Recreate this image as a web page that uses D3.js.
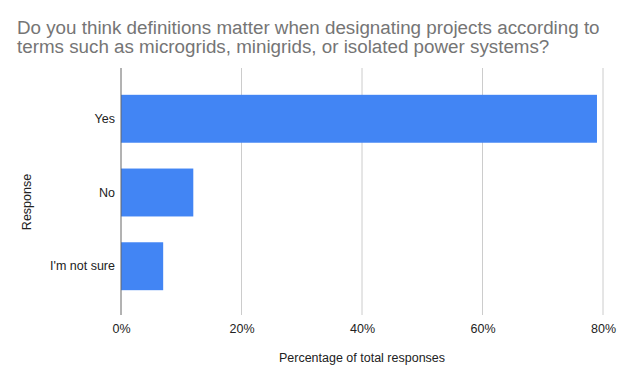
<!DOCTYPE html>
<html>
<head>
<meta charset="utf-8">
<script src="https://cdn.jsdelivr.net/npm/d3@7"></script>
<style>
  body { margin: 0; background: #fff; }
  text { font-family: "Liberation Sans", Arial, sans-serif; }
</style>
</head>
<body>
<div id="chart"></div>
<script>
// Chart data
const categories = ["Yes", "No", "I'm not sure"];
const percentages = [0.79, 0.12, 0.07];
const tickValues = [0, 0.2, 0.4, 0.6, 0.8];
const titleLines = [
    "Do you think definitions matter when designating projects according to",
    "terms such as microgrids, minigrids, or isolated power systems?"
];

const width = 624, height = 385;
const plot = { left: 121, right: 603, top: 68, bottom: 315 };

const svg = d3.select("#chart")
    .append("svg")
    .attr("width", width)
    .attr("height", height);

// Scales
const xScale = d3.scaleLinear()
    .domain([0, 0.8])
    .range([plot.left, plot.right]);

const yScale = d3.scaleBand()
    .domain(categories)
    .range([plot.top + 1, plot.bottom + 1])
    .paddingInner(0.35)
    .paddingOuter(0.35);

// Title
svg.append("text")
    .attr("x", 17)
    .attr("y", 34)
    .attr("fill", "#757575")
    .attr("font-size", 18.8)
    .selectAll("tspan")
    .data(titleLines)
    .enter().append("tspan")
    .attr("x", 17)
    .attr("dy", (d, i) => i === 0 ? 0 : 19)
    .text(d => d);

// Vertical gridlines
svg.append("g")
    .selectAll("line")
    .data(tickValues.slice(1))
    .enter().append("line")
    .attr("x1", d => xScale(d))
    .attr("x2", d => xScale(d))
    .attr("y1", plot.top)
    .attr("y2", plot.bottom)
    .attr("stroke", "#cccccc")
    .attr("stroke-width", 1);

// Bars
svg.append("g")
    .selectAll("rect")
    .data(categories)
    .enter().append("rect")
    .attr("x", xScale(0))
    .attr("y", d => yScale(d))
    .attr("width", (d, i) => xScale(percentages[i]) - xScale(0))
    .attr("height", yScale.bandwidth())
    .attr("fill", "#4285f4");

// Baseline
svg.append("line")
    .attr("x1", xScale(0))
    .attr("x2", xScale(0))
    .attr("y1", plot.top)
    .attr("y2", plot.bottom)
    .attr("stroke", "#666666")
    .attr("stroke-width", 1);

// X axis tick labels
const xAxis = svg.append("g")
    .attr("transform", `translate(0,${plot.bottom})`)
    .call(d3.axisBottom(xScale)
        .tickValues(tickValues)
        .tickFormat(d3.format(".0%"))
        .tickSize(0)
        .tickPadding(9));
xAxis.select(".domain").remove();
xAxis.selectAll("text")
    .attr("font-family", "Liberation Sans, Arial, sans-serif")
    .attr("font-size", 12.5)
    .attr("fill", "#222222");

// Y axis category labels
const yAxis = svg.append("g")
    .attr("transform", `translate(${plot.left},0)`)
    .call(d3.axisLeft(yScale).tickSize(0).tickPadding(6));
yAxis.select(".domain").remove();
yAxis.selectAll("text")
    .attr("font-family", "Liberation Sans, Arial, sans-serif")
    .attr("font-size", 12.5)
    .attr("fill", "#222222");

// X axis title
svg.append("text")
    .attr("x", (plot.left + plot.right) / 2)
    .attr("y", 362)
    .attr("text-anchor", "middle")
    .attr("font-size", 12.5)
    .attr("fill", "#222222")
    .text("Percentage of total responses");

// Y axis title
svg.append("text")
    .attr("transform", "rotate(-90)")
    .attr("x", -202)
    .attr("y", 31)
    .attr("text-anchor", "middle")
    .attr("font-size", 12.5)
    .attr("fill", "#222222")
    .text("Response");
</script>
</body>
</html>
